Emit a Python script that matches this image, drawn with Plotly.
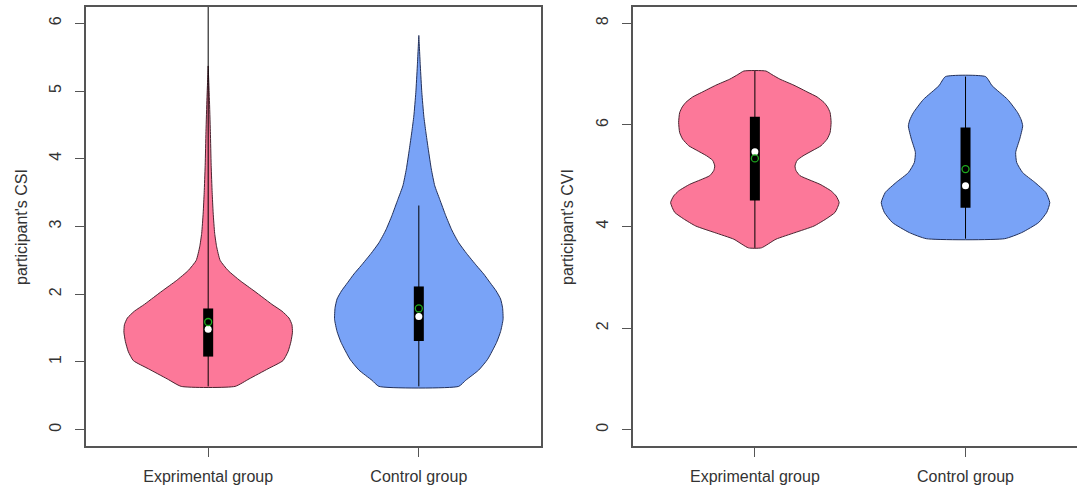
import plotly.graph_objects as go

# ---------------- data ----------------
groups = ["Exprimental group", "Control group"]
positions = [1, 2]

# CSI panel: density profiles (level, relative half-width)
csi_exp_level = [0.64, 0.75, 0.9, 1.02, 1.15, 1.3, 1.44, 1.55, 1.65, 1.75, 1.85,
                 1.95, 2.05, 2.2, 2.35, 2.5, 2.7, 2.9, 3.2, 3.5, 3.9, 4.4, 4.9, 5.37]
csi_exp_density = [27, 41, 60, 75, 80, 83, 84.5, 84, 81, 74, 64,
                   55, 46, 32, 20, 12, 8.5, 6.5, 5, 4, 3, 2.2, 1.2, 0]

csi_ctl_level = [0.64, 0.73, 0.88, 1.04, 1.29, 1.45, 1.63, 1.8, 1.93, 2.05, 2.17,
                 2.3, 2.42, 2.6, 2.76, 2.95, 3.16, 3.4, 3.6, 3.85, 4.14, 4.4,
                 4.63, 4.98, 5.37, 5.82]
csi_ctl_density = [40, 47, 60, 69, 78, 82, 84.5, 84, 82, 77.5, 71.5,
                   65, 58, 48, 40, 33, 27, 21, 16, 12.5, 9.5, 7,
                   5, 3, 1.5, 0]

csi_q1 = [1.08, 1.31]
csi_q3 = [1.79, 2.115]
csi_median = [1.485, 1.67]
csi_mean = [1.59, 1.79]
csi_whisker_lo = [0.64, 0.64]
csi_whisker_hi = [6.3, 3.31]

# CVI panel
cvi_exp_level = [3.58, 3.75, 3.88, 4.01, 4.15, 4.28, 4.47, 4.6, 4.7, 4.83, 4.92,
                 5.0, 5.1, 5.19, 5.3, 5.39, 5.5, 5.59, 5.72, 5.85, 6.05, 6.24,
                 6.35, 6.44, 6.55, 6.64, 6.78, 6.9, 6.99, 7.06]
cvi_exp_density = [6.5, 21, 40, 59, 71, 80, 84, 81, 76, 65, 54,
                   45, 41, 40, 42, 48, 58, 66, 72, 75, 76, 75,
                   72.5, 69, 62, 53, 39, 25, 17, 11]

cvi_ctl_level = [3.76, 3.88, 4.08, 4.28, 4.47, 4.67, 4.87, 5.06, 5.26, 5.46,
                 5.72, 5.98, 6.1, 6.24, 6.5, 6.77, 6.95]
cvi_ctl_density = [39, 56, 73, 81, 84, 80, 69, 57, 51, 50,
                   54, 57, 55.5, 52, 42, 26.5, 20]

cvi_q1 = [4.51, 4.37]
cvi_q3 = [6.16, 5.95]
cvi_median = [5.47, 4.80]
cvi_mean = [5.34, 5.13]
cvi_whisker_lo = [3.58, 3.76]
cvi_whisker_hi = [7.06, 6.95]

# ---------------- styling ----------------
FILL = ["#FC7899", "#79A3F7"]
EDGE = ["#4a2430", "#22305a"]
WEX = 0.4          # max half-width of a violin in x units
BOX_W = 10         # px
AXIS_COL = "#555555"
TXT_COL = "#333333"
FONT = "Liberation Sans, Arial, sans-serif"
FS = 16

fig = go.Figure()


def add_panel(xref, yref, levels, dens, q1, q3, med, mean, wlo, whi):
    for i, pos in enumerate(positions):
        lv = levels[i]
        d = dens[i]
        m = max(d)
        right = [pos + WEX * v / m for v in d]
        left = [pos - WEX * v / m for v in d]
        xs = right + left[::-1] + [right[0]]
        ys = lv + lv[::-1] + [lv[0]]
        fig.add_trace(go.Scatter(x=xs, y=ys, mode="lines", fill="toself",
                                 fillcolor=FILL[i],
                                 line=dict(color=EDGE[i], width=1, shape="spline", smoothing=0.5),
                                 xaxis=xref, yaxis=yref, hoverinfo="skip"))
        fig.add_trace(go.Scatter(x=[pos, pos], y=[wlo[i], whi[i]], mode="lines",
                                 line=dict(color="black", width=1),
                                 xaxis=xref, yaxis=yref, hoverinfo="skip"))
        fig.add_trace(go.Scatter(x=[pos, pos], y=[q1[i], q3[i]], mode="lines",
                                 line=dict(color="black", width=BOX_W),
                                 xaxis=xref, yaxis=yref, hoverinfo="skip"))
        fig.add_trace(go.Scatter(x=[pos], y=[med[i]], mode="markers",
                                 marker=dict(color="white", size=7, line=dict(width=0)),
                                 xaxis=xref, yaxis=yref, hoverinfo="skip"))
        fig.add_trace(go.Scatter(x=[pos], y=[mean[i]], mode="markers",
                                 marker=dict(symbol="circle-open", color="#1faa1f", size=7,
                                             line=dict(width=1.3, color="#1faa1f")),
                                 xaxis=xref, yaxis=yref, hoverinfo="skip"))


add_panel("x", "y", [csi_exp_level, csi_ctl_level], [csi_exp_density, csi_ctl_density],
          csi_q1, csi_q3, csi_median, csi_mean, csi_whisker_lo, csi_whisker_hi)
add_panel("x2", "y2", [cvi_exp_level, cvi_ctl_level], [cvi_exp_density, cvi_ctl_density],
          cvi_q1, cvi_q3, cvi_median, cvi_mean, cvi_whisker_lo, cvi_whisker_hi)

W, H = 1077, 487
ydom = [(H - 446) / H, (H - 7) / H]

common_x = dict(tickmode="array", tickvals=positions, ticktext=groups,
                ticks="outside", ticklen=9, tickcolor=AXIS_COL, tickwidth=1,
                showline=True, linecolor=AXIS_COL, linewidth=1.5, mirror=True,
                showgrid=False, zeroline=False,
                tickfont=dict(family=FONT, size=FS, color=TXT_COL),
                ticklabelstandoff=6)
common_y = dict(ticks="outside", ticklen=9, tickcolor=AXIS_COL, tickwidth=1,
                showline=True, linecolor=AXIS_COL, linewidth=1.5,
                showgrid=False, zeroline=False, tickangle=-90,
                tickfont=dict(family=FONT, size=FS, color=TXT_COL),
                ticklabelstandoff=8)

fig.update_layout(
    width=W, height=H,
    margin=dict(l=0, r=0, t=0, b=0),
    paper_bgcolor="white", plot_bgcolor="white",
    showlegend=False,
    xaxis=dict(domain=[86 / W, 541 / W], range=[0.42, 2.58], anchor="y", **common_x),
    yaxis=dict(domain=ydom, range=[-0.24, 6.24], anchor="x", mirror=True,
               tickvals=[0, 1, 2, 3, 4, 5, 6], **common_y),
    xaxis2=dict(domain=[632.7 / W, 1.0], range=[0.42, 0.42 + (W - 632.7) / 455 * 2.16],
                anchor="y2", **common_x),
    yaxis2=dict(domain=ydom, range=[-0.32, 8.32], anchor="x2", mirror=False,
                tickvals=[0, 2, 4, 6, 8], **common_y),
    annotations=[
        dict(text="participant's CSI", x=21 / W, y=1 - 227 / H, xref="paper", yref="paper",
             xanchor="center", yanchor="middle", textangle=-90, showarrow=False,
             font=dict(family=FONT, size=FS, color=TXT_COL)),
        dict(text="participant's CVI", x=567 / W, y=1 - 227 / H, xref="paper", yref="paper",
             xanchor="center", yanchor="middle", textangle=-90, showarrow=False,
             font=dict(family=FONT, size=FS, color=TXT_COL)),
    ],
)

fig.write_html("out.html", config={"displayModeBar": False},
               post_script="document.body.style.margin='0';document.body.style.overflow='hidden';")
